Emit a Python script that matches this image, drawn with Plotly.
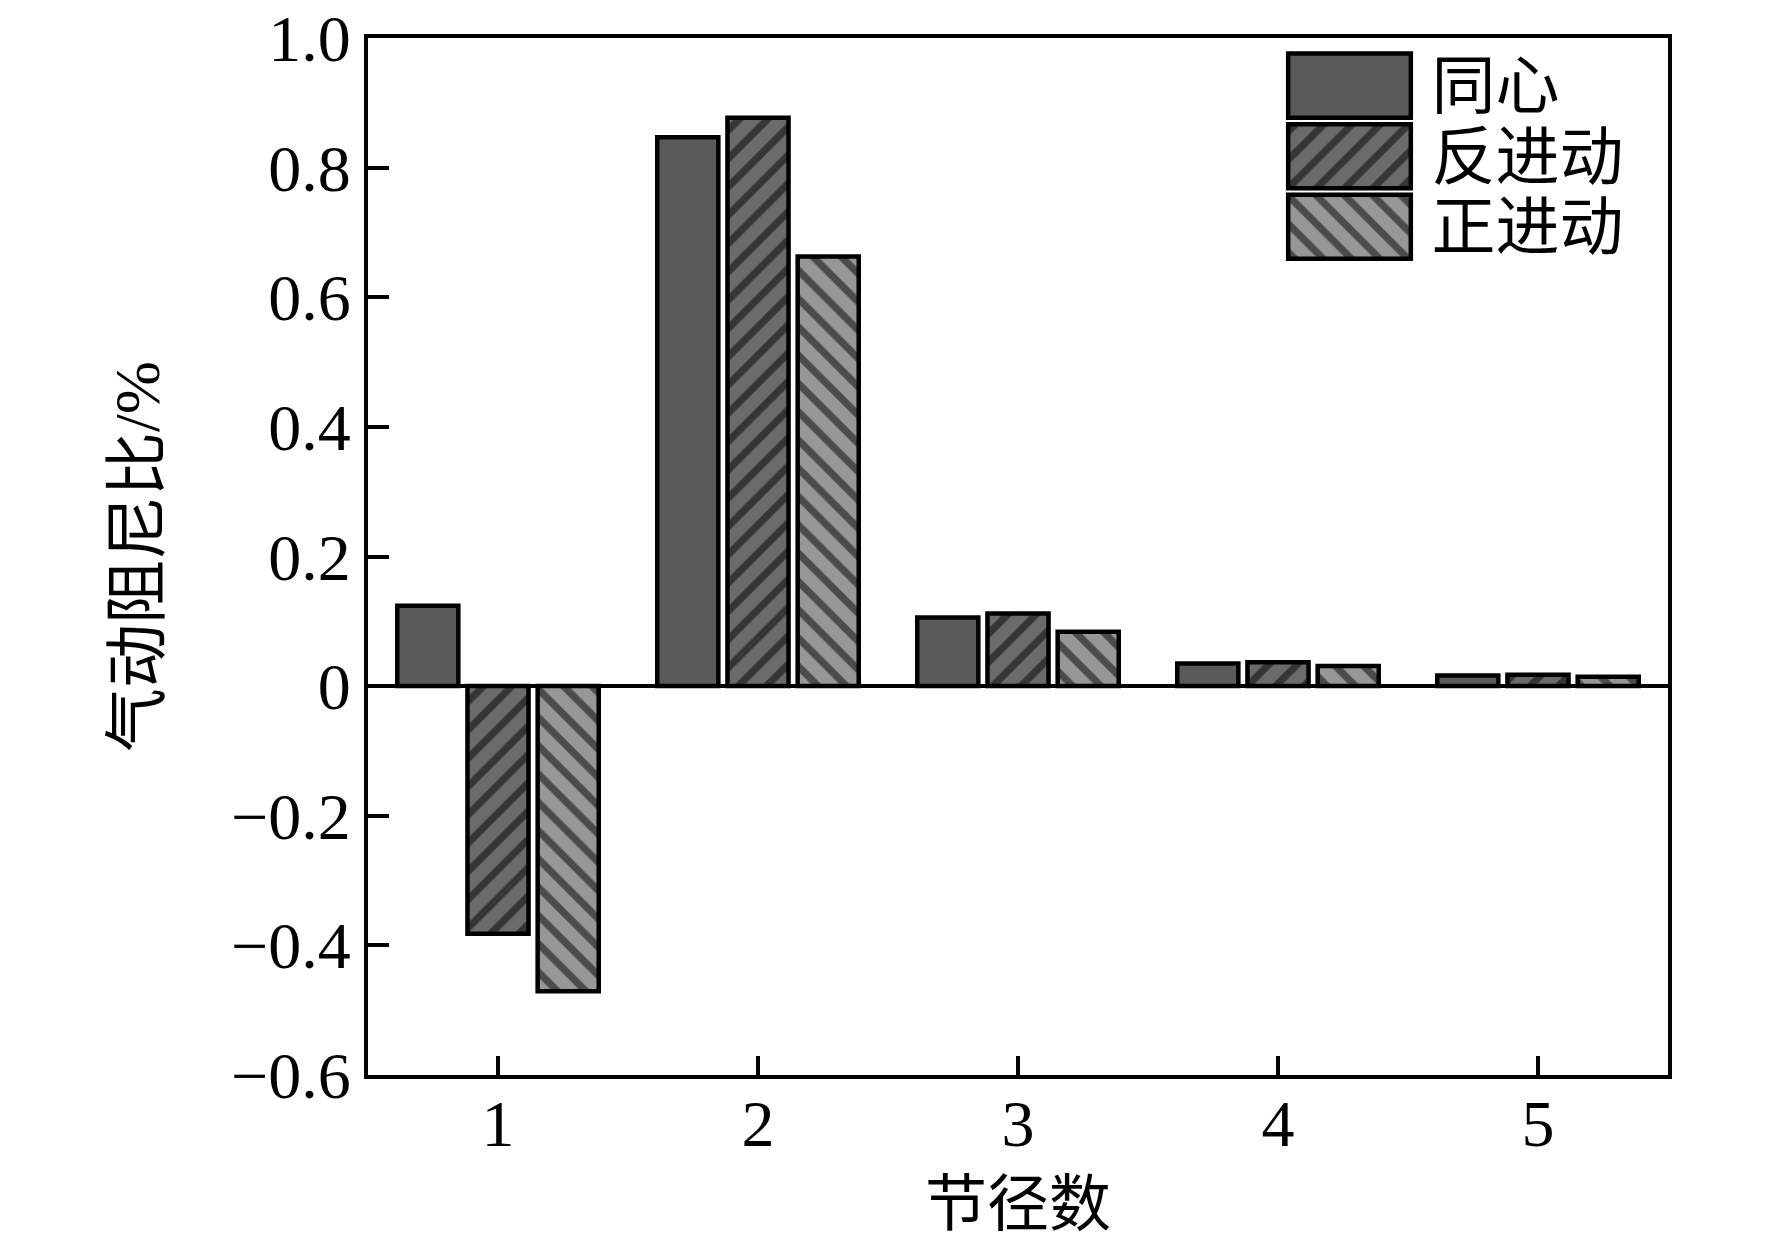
import plotly.graph_objects as go

nodal_diameters = [1, 2, 3, 4, 5]
concentric = [0.124, 0.847, 0.106, 0.035, 0.0165]
backward = [-0.382, 0.877, 0.112, 0.037, 0.0176]
forward = [-0.471, 0.663, 0.084, 0.031, 0.0145]
series_names = ["同心", "反进动", "正进动"]
y_tickvals = [-0.6, -0.4, -0.2, 0, 0.2, 0.4, 0.6, 0.8, 1.0]
y_ticktext = ["\u22120.6", "\u22120.4", "\u22120.2", "0", "0.2", "0.4", "0.6", "0.8", "1.0"]

FONT = "Liberation Serif, Times New Roman, Noto Sans CJK SC"
fills = ["#5a5a5a", "#6b6b6b", "#979797"]
shapes = ["", "/", "\\"]

fig = go.Figure()
for vals, name, col, shp in zip([concentric, backward, forward], series_names, fills, shapes):
    pattern = dict(shape=shp, fgcolor="black", bgcolor=col, size=20, solidity=0.36)
    fig.add_trace(go.Bar(
        x=nodal_diameters, y=vals, name=name, showlegend=False,
        marker=dict(color=col, line=dict(color="black", width=4.5), pattern=pattern),
    ))
    # legend key: one horizontal bar per series in a small inset axis
    fig.add_trace(go.Bar(
        y=[name], x=[1], base=0, orientation="h", offsetgroup="legend",
        xaxis="x2", yaxis="y2", showlegend=False, hoverinfo="skip", width=0.91,
        marker=dict(color=col, line=dict(color="black", width=4.5), pattern=pattern),
    ))

fig.update_layout(
    width=1772, height=1246,
    margin=dict(l=360, r=112, t=30, b=179),
    paper_bgcolor="white", plot_bgcolor="white",
    barmode="group", bargap=0.19, bargroupgap=0.13,
    font=dict(family=FONT, size=66, color="black"),
    showlegend=False,
    xaxis=dict(
        range=[0.5, 5.5], tickvals=nodal_diameters, automargin=False,
        ticks="inside", ticklen=19, tickwidth=4, tickcolor="black",
        showline=True, linewidth=4, linecolor="black", mirror=True,
        showgrid=False, zeroline=False, ticklabelstandoff=-12,
        tickfont=dict(family=FONT, size=66, color="black"),
        title=dict(text="节径数", font=dict(family=FONT, size=62, color="black"), standoff=24),
    ),
    yaxis=dict(
        range=[-0.6001, 1.0001], tickvals=y_tickvals, ticktext=y_ticktext,
        automargin=False,
        ticks="inside", ticklen=21, tickwidth=4, tickcolor="black",
        showline=True, linewidth=4, linecolor="black", mirror=True,
        showgrid=False, zeroline=True, zerolinecolor="black", zerolinewidth=4,
        ticklabeloverflow="allow",
        tickfont=dict(family=FONT, size=66, color="black"),
        title=dict(text="气动阻尼比/%", font=dict(family=FONT, size=64, color="black"), standoff=52),
    ),
    xaxis2=dict(domain=[0.705, 0.805], anchor="y2", range=[-0.03, 1.03],
                visible=False, fixedrange=True),
    yaxis2=dict(domain=[0.784, 0.988], anchor="x2", side="right",
                autorange="reversed", showline=False, showgrid=False,
                zeroline=False, ticks="", ticklabelstandoff=16, automargin=False,
                tickmode="array", tickvals=series_names, ticktext=series_names,
                ticklabeloverflow="allow",
                tickfont=dict(family=FONT, size=64, color="black"),
                fixedrange=True),
)

fig.write_html("out.html")
